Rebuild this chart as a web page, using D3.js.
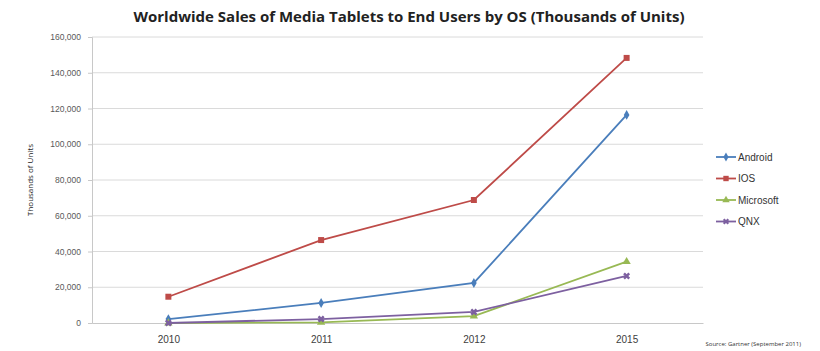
<!DOCTYPE html>
<meta charset="utf-8">
<title>Worldwide Sales of Media Tablets</title>
<style>
body { margin: 0; background: #fff; }
text { font-family: "Open Sans", "Liberation Sans", sans-serif; }
</style>
<body>
<script src="https://cdn.jsdelivr.net/npm/d3@7"></script>
<script>

var years = ["2010", "2011", "2012", "2015"];
var android = [2200, 11200, 22400, 116400];
var ios = [14700, 46400, 68800, 148300];
var microsoft = [0, 300, 3900, 34300];
var qnx = [0, 2200, 6200, 26300];
var yTicks = [0, 20000, 40000, 60000, 80000, 100000, 120000, 140000, 160000];

var series = [
  {name: "Android", values: android, color: "#4a7ebb", symbol: d3.symbolDiamond, size: 28},
  {name: "iOS", values: ios, color: "#be4b48", symbol: d3.symbolSquare, size: 36},
  {name: "Microsoft", values: microsoft, color: "#98b954", symbol: d3.symbolTriangle, size: 30},
  {name: "QNX", values: qnx, color: "#7d60a0", symbol: d3.symbolCross, size: 30}
];

var w = 820, h = 351,
    plotLeft = 92, plotRight = 703, plotTop = 37, plotBottom = 323;

var svg = d3.select("body").append("svg")
    .attr("width", w)
    .attr("height", h);

var x = d3.scalePoint().domain(years).range([plotLeft, plotRight]).padding(0.5);
var y = d3.scaleLinear().domain([0, 160000]).range([plotBottom, plotTop]);

svg.append("text")
    .attr("x", 409).attr("y", 22)
    .attr("text-anchor", "middle")
    .style("font-size", "15px").style("font-weight", "bold")
    .style("fill", "#222")
    .text("Worldwide Sales of Media Tablets to End Users by OS (Thousands of Units)");

// gridlines
svg.append("g").selectAll("line")
    .data(yTicks.slice(1))
  .enter().append("line")
    .attr("x1", plotLeft).attr("x2", plotRight)
    .attr("y1", function(d) { return y(d); })
    .attr("y2", function(d) { return y(d); })
    .style("stroke", "#dadada");

var yAxis = svg.append("g")
    .attr("transform", "translate(" + plotLeft + ",0)")
    .call(d3.axisLeft(y).tickValues(yTicks).tickSize(4).tickFormat(d3.format(",")));
yAxis.select(".domain").style("stroke", "#c8c8c8");
yAxis.selectAll(".tick line").style("stroke", "#c8c8c8");
yAxis.selectAll("text").style("font-size", "8.5px").style("fill", "#595959")
    .style("font-family", "'Liberation Sans', sans-serif").attr("x", -11);

var xAxis = svg.append("g")
    .attr("transform", "translate(0," + plotBottom + ")")
    .call(d3.axisBottom(x).tickSize(0));
xAxis.select(".domain").style("stroke", "#c8c8c8");
xAxis.selectAll("text").style("font-size", "10px").style("fill", "#404040")
    .style("font-family", "'Liberation Sans', sans-serif").attr("y", 13);

svg.append("text")
    .attr("transform", "translate(33,180)rotate(-90)")
    .attr("text-anchor", "middle")
    .style("font-size", "8px").style("fill", "#222")
    .text("Thousands of Units");

svg.append("text")
    .attr("x", 801).attr("y", 346)
    .attr("text-anchor", "end")
    .style("font-size", "6px").style("fill", "#333")
    .text("Source: Gartner (September 2011)");

var line = d3.line()
    .x(function(d, i) { return x(years[i]); })
    .y(function(d) { return y(d); });

var g = svg.append("g").selectAll("g")
    .data(series)
  .enter().append("g");

g.append("path")
    .attr("d", function(s) { return line(s.values); })
    .style("fill", "none")
    .style("stroke", function(s) { return s.color; })
    .style("stroke-width", 1.8);

g.selectAll(".pt")
    .data(function(s) { return s.values.map(function(v, i) { return {s: s, v: v, i: i}; }); })
  .enter().append("path")
    .attr("class", "pt")
    .attr("transform", function(d) {
      var r = d.s.symbol === d3.symbolCross ? 45 : 0;
      return "translate(" + x(years[d.i]) + "," + y(d.v) + ")rotate(" + r + ")";
    })
    .attr("d", function(d) { return d3.symbol().type(d.s.symbol).size(d.s.size)(); })
    .style("fill", function(d) { return d.s.color; });

// legend
var legend = svg.append("g").selectAll("g")
    .data(series)
  .enter().append("g")
    .attr("transform", function(d, i) { return "translate(716," + (157 + i * 21.5) + ")"; });

legend.append("line")
    .attr("x1", 0).attr("x2", 20)
    .style("stroke", function(d) { return d.color; })
    .style("stroke-width", 1.8);

legend.append("path")
    .attr("transform", function(d) { return "translate(10,0)" + (d.symbol === d3.symbolCross ? "rotate(45)" : ""); })
    .attr("d", function(d) { return d3.symbol().type(d.symbol).size(d.size * 0.8)(); })
    .style("fill", function(d) { return d.color; });

legend.append("text")
    .attr("x", 22).attr("y", 3.5)
    .style("font-size", "10px").style("fill", "#333")
    .style("font-family", "'Liberation Sans', sans-serif")
    .text(function(d) { return d.name === "iOS" ? "IOS" : d.name; });

</script>
